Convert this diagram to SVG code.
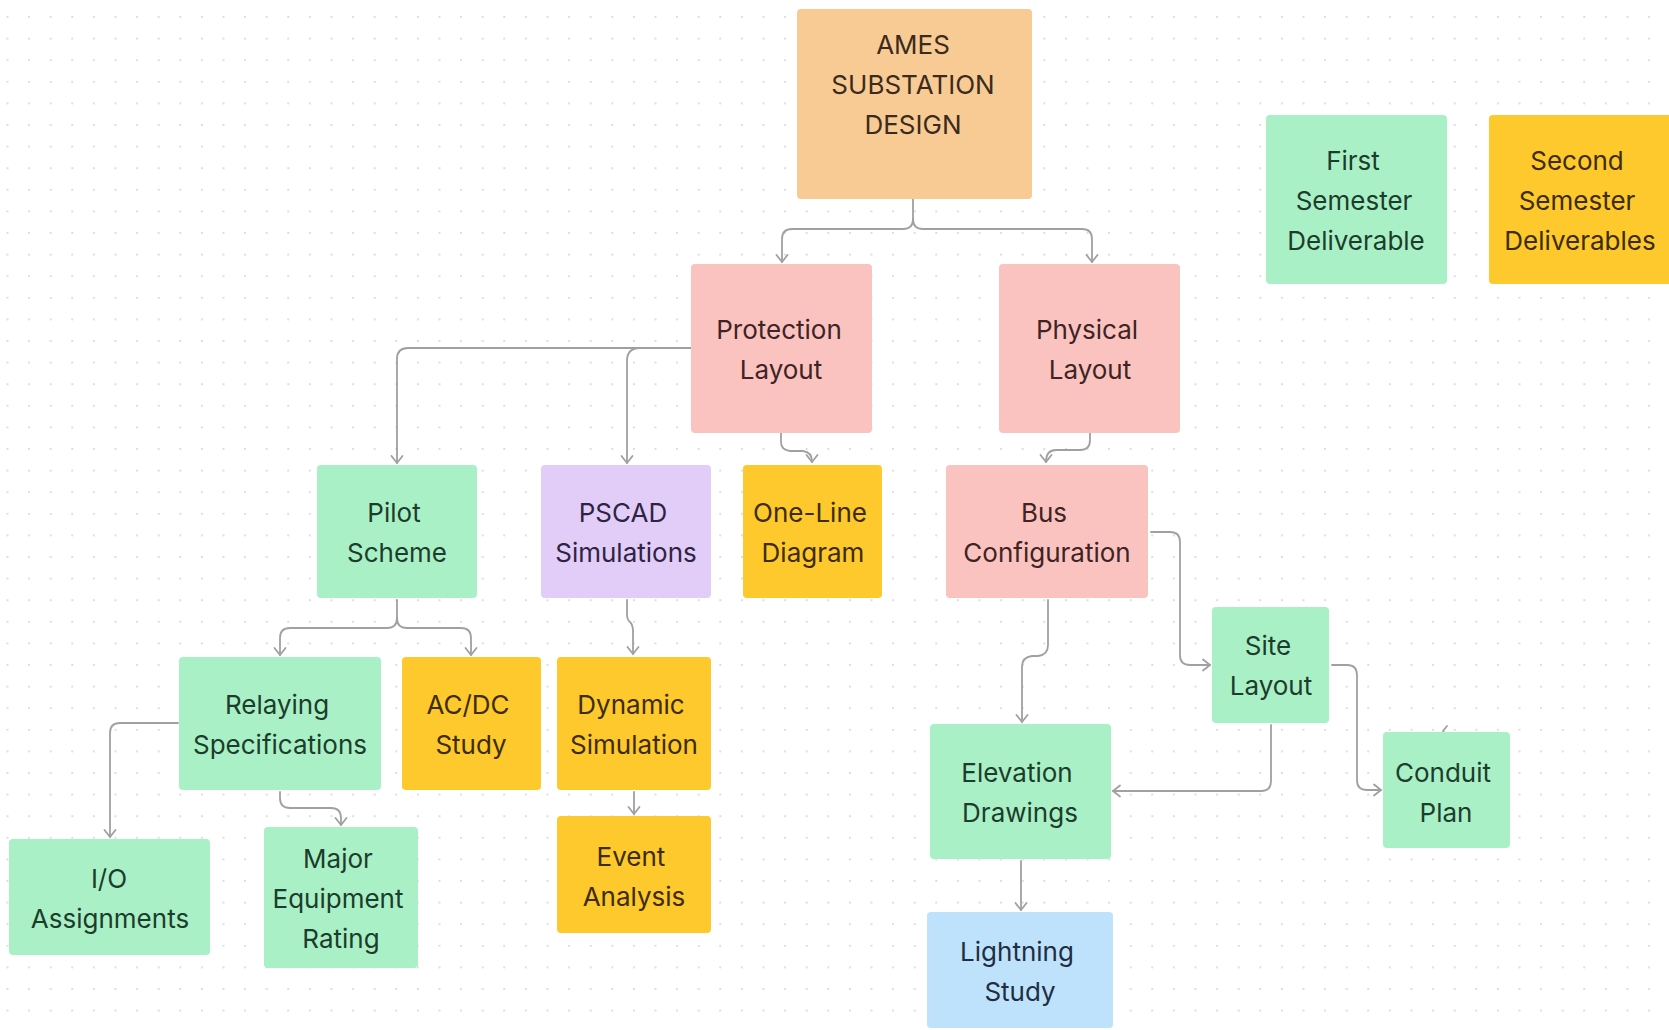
<svg xmlns="http://www.w3.org/2000/svg" width="1669" height="1030" viewBox="0 0 1669 1030">
<style>
.n{stroke:none}
.orange{fill:#F8CB94}
.pink{fill:#FBC3BF}
.green{fill:#AAF0C7}
.yellow{fill:#FDC92C}
.purple{fill:#E2CDF9}
.blue{fill:#BEE2FC}
text{font-family:Inter,"Noto Sans","Liberation Sans",sans-serif;font-size:26px;text-anchor:middle}
.tg{fill:#1c3d2b}
.tp{fill:#3e2424}
.ty{fill:#3d2c08}
.to{fill:#3b2b1c}
.tv{fill:#2e2442}
.tb{fill:#1f2e42}
.c{fill:none;stroke:#a0a0a0;stroke-width:1.8;stroke-linecap:round;stroke-linejoin:round}
</style>
<defs>
<pattern id="dots" x="7.5" y="17" width="21.6" height="21.6" patternUnits="userSpaceOnUse">
<circle cx="0" cy="0" r="1.1" fill="#d6d6d6"/>
<circle cx="21.6" cy="0" r="1.1" fill="#d6d6d6"/>
<circle cx="0" cy="21.6" r="1.1" fill="#d6d6d6"/>
<circle cx="21.6" cy="21.6" r="1.1" fill="#d6d6d6"/>
</pattern>
<marker id="arr" viewBox="0 0 14 14" refX="12" refY="7" markerWidth="14" markerHeight="14" markerUnits="userSpaceOnUse" orient="auto">
<path d="M5 1.5 L12 7 L5 12.5" fill="none" stroke="#a0a0a0" stroke-width="1.8" stroke-linecap="round" stroke-linejoin="round"/>
</marker>
</defs>
<rect width="1669" height="1030" fill="#ffffff"/>
<rect width="1669" height="1030" fill="url(#dots)"/>

<g id="connectors">
<path class="c" d="M913 199 V219 Q913 229 903 229 H792 Q782 229 782 239 V262" marker-end="url(#arr)"/>
<path class="c" d="M913 219 Q913 229 923 229 H1082 Q1092 229 1092 239 V262" marker-end="url(#arr)"/>
<path class="c" d="M691 348 H408 Q397 348 397 359 V463" marker-end="url(#arr)"/>
<path class="c" d="M640 348 Q627 348 627 361 V463" marker-end="url(#arr)"/>
<path class="c" d="M781 433 V442 Q781 450 790 451 H803 Q812 452 812 462" marker-end="url(#arr)"/>
<path class="c" d="M1090 433 V440 Q1090 450 1080 450 H1056 Q1046 450 1046 462" marker-end="url(#arr)"/>
<path class="c" d="M1048 600 V645 Q1048 655 1038 656 H1032 Q1022 657 1022 667 V722" marker-end="url(#arr)"/>
<path class="c" d="M1151 532 H1170 Q1180 532 1180 542 V655 Q1180 665 1190 665 H1210" marker-end="url(#arr)"/>
<path class="c" d="M1332 665 H1347 Q1357 665 1357 675 V780 Q1357 790 1367 790 H1381" marker-end="url(#arr)"/>
<path class="c" d="M1271 725 V781 Q1271 791 1261 791 H1113" marker-end="url(#arr)"/>
<path class="c" d="M1021 861 V910" marker-end="url(#arr)"/>
<path class="c" d="M397 600 V618 Q397 628 387 628 H290 Q280 628 280 638 V655" marker-end="url(#arr)"/>
<path class="c" d="M397 618 Q397 628 407 628 H461 Q471 628 471 638 V655" marker-end="url(#arr)"/>
<path class="c" d="M627 600 V614 Q627 620 630 622 Q633 625 633 631 V654" marker-end="url(#arr)"/>
<path class="c" d="M634 792 V814" marker-end="url(#arr)"/>
<path class="c" d="M178 723 H120 Q110 723 110 733 V837" marker-end="url(#arr)"/>
<path class="c" d="M280 792 V798 Q280 808 290 808 H331 Q341 808 341 818 V825" marker-end="url(#arr)"/>
<path class="c" d="M1447 726 L1443 731 L1447 736"/>
</g>

<g id="ames"><rect class="n orange" x="797" y="9" width="235" height="190" rx="4"/>
<text class="to" x="913" y="54">AMES</text><text class="to" x="913" y="94">SUBSTATION</text><text class="to" x="913" y="134">DESIGN</text></g>

<g id="protection"><rect class="n pink" x="691" y="264" width="181" height="169" rx="4"/>
<text class="tp" x="779" y="339">Protection</text><text class="tp" x="781" y="379">Layout</text></g>

<g id="physical"><rect class="n pink" x="999" y="264" width="181" height="169" rx="4"/>
<text class="tp" x="1087" y="339">Physical</text><text class="tp" x="1090" y="379">Layout</text></g>

<g id="first"><rect class="n green" x="1266" y="115" width="181" height="169" rx="4"/>
<text class="tg" x="1353" y="170">First</text><text class="tg" x="1354" y="210">Semester</text><text class="tg" x="1356" y="250">Deliverable</text></g>

<g id="second"><rect class="n yellow" x="1489" y="115" width="184" height="169" rx="4"/>
<text class="ty" x="1577" y="170">Second</text><text class="ty" x="1577" y="210">Semester</text><text class="ty" x="1580" y="250">Deliverables</text></g>

<g id="pilot"><rect class="n green" x="317" y="465" width="160" height="133" rx="4"/>
<text class="tg" x="394" y="522">Pilot</text><text class="tg" x="397" y="562">Scheme</text></g>

<g id="pscad"><rect class="n purple" x="541" y="465" width="170" height="133" rx="4"/>
<text class="tv" x="623" y="522">PSCAD</text><text class="tv" x="626" y="562">Simulations</text></g>

<g id="oneline"><rect class="n yellow" x="743" y="465" width="139" height="133" rx="4"/>
<text class="ty" x="810" y="522">One-Line</text><text class="ty" x="813" y="562">Diagram</text></g>

<g id="bus"><rect class="n pink" x="946" y="465" width="202" height="133" rx="4"/>
<text class="tp" x="1044" y="522">Bus</text><text class="tp" x="1047" y="562">Configuration</text></g>

<g id="relaying"><rect class="n green" x="179" y="657" width="202" height="133" rx="4"/>
<text class="tg" x="277" y="714">Relaying</text><text class="tg" x="280" y="754">Specifications</text></g>

<g id="acdc"><rect class="n yellow" x="402" y="657" width="139" height="133" rx="4"/>
<text class="ty" x="468" y="714">AC/DC</text><text class="ty" x="471" y="754">Study</text></g>

<g id="dynamic"><rect class="n yellow" x="557" y="657" width="154" height="133" rx="4"/>
<text class="ty" x="631" y="714">Dynamic</text><text class="ty" x="634" y="754">Simulation</text></g>

<g id="site"><rect class="n green" x="1212" y="607" width="117" height="116" rx="4"/>
<text class="tg" x="1268" y="655">Site</text><text class="tg" x="1271" y="695">Layout</text></g>

<g id="elevation"><rect class="n green" x="930" y="724" width="181" height="135" rx="4"/>
<text class="tg" x="1017" y="782">Elevation</text><text class="tg" x="1020" y="822">Drawings</text></g>

<g id="conduit"><rect class="n green" x="1383" y="732" width="127" height="116" rx="4"/>
<text class="tg" x="1443" y="782">Conduit</text><text class="tg" x="1446" y="822">Plan</text></g>

<g id="io"><rect class="n green" x="9" y="839" width="201" height="116" rx="4"/>
<text class="tg" x="109" y="888">I/O</text><text class="tg" x="110" y="928">Assignments</text></g>

<g id="major"><rect class="n green" x="264" y="827" width="154" height="141" rx="4"/>
<text class="tg" x="338" y="868">Major</text><text class="tg" x="338" y="908">Equipment</text><text class="tg" x="341" y="948">Rating</text></g>

<g id="event"><rect class="n yellow" x="557" y="816" width="154" height="117" rx="4"/>
<text class="ty" x="631" y="866">Event</text><text class="ty" x="634" y="906">Analysis</text></g>

<g id="lightning"><rect class="n blue" x="927" y="912" width="186" height="116" rx="4"/>
<text class="tb" x="1017" y="961">Lightning</text><text class="tb" x="1020" y="1001">Study</text></g>
</svg>
